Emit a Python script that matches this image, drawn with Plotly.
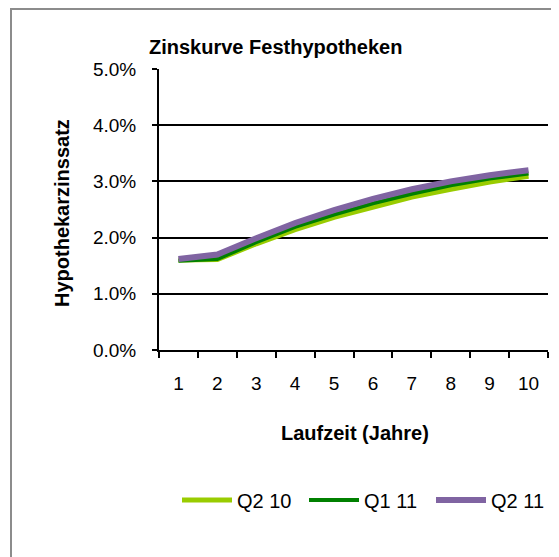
import plotly.graph_objects as go

years = ["1", "2", "3", "4", "5", "6", "7", "8", "9", "10"]
q2_10 = [1.60, 1.61, 1.89, 2.14, 2.36, 2.55, 2.72, 2.86, 2.99, 3.09]
q1_11 = [1.59, 1.62, 1.92, 2.19, 2.41, 2.61, 2.78, 2.93, 3.05, 3.14]
q2_11 = [1.62, 1.70, 1.99, 2.26, 2.49, 2.69, 2.86, 3.00, 3.11, 3.20]
yticks = [0, 1, 2, 3, 4, 5]
ytick_labels = ["0.0%", "1.0%", "2.0%", "3.0%", "4.0%", "5.0%"]

series = [
    ("Q2 10", q2_10, "#99CC00", 5),
    ("Q1 11", q1_11, "#008000", 4),
    ("Q2 11", q2_11, "#8064A2", 6),
]

fig = go.Figure()
for name, vals, col, w in series:
    fig.add_trace(go.Scatter(x=years, y=vals, name=name, mode="lines",
                             line=dict(color=col, width=w)))

# page body has an 8px margin: work in figure coordinates
OFF = 8
W, H = 559 - OFF, 557 - OFF
L, R, T, B = 159 - OFF, 548 - OFF, 69 - OFF, 350 - OFF
pw, ph = R - L, B - T

def px(x):
    return (x - OFF - L) / pw

def py(y):
    return (B - (y - OFF)) / ph

FONT = "Liberation Sans, Arial"

fig.update_layout(
    width=W, height=H,
    margin=dict(l=L, r=W - R, t=T, b=H - B, pad=0, autoexpand=False),
    paper_bgcolor="white", plot_bgcolor="white",
    font=dict(family=FONT, size=19, color="black"),
    showlegend=True,
    legend=dict(orientation="h", x=px(558), xanchor="right",
                y=py(500), yanchor="middle",
                font=dict(size=20), itemwidth=50, entrywidth=62,
                entrywidthmode="pixels", bgcolor="rgba(0,0,0,0)",
                traceorder="normal"),
    xaxis=dict(type="category", showline=True, linecolor="black", linewidth=2,
               ticks="outside", ticklen=6, tickcolor="black", tickwidth=2,
               tickson="boundaries", showgrid=False, range=[-0.5, 9.5],
               ticklabelstandoff=15, tickfont=dict(size=19)),
    yaxis=dict(range=[0, 5], tickvals=yticks, ticktext=ytick_labels,
               showline=True, linecolor="black", linewidth=2,
               ticks="outside", ticklen=5, tickcolor="black", tickwidth=2,
               showgrid=True, gridcolor="black", gridwidth=1.5,
               zeroline=False, ticklabelstandoff=12, tickfont=dict(size=19)),
    yaxis2=dict(range=[0, 5], tickvals=yticks, overlaying="y", side="left",
                showticklabels=False, showline=False, showgrid=False,
                zeroline=False, ticks="inside", ticklen=5, tickcolor="black",
                tickwidth=2),
    annotations=[
        dict(text="<b>Zinskurve Festhypotheken</b>", xref="paper", yref="paper",
             x=px(275), y=py(47), xanchor="center", yanchor="middle",
             showarrow=False, font=dict(size=20)),
        dict(text="<b>Laufzeit (Jahre)</b>", xref="paper", yref="paper",
             x=px(355), y=py(433), xanchor="center", yanchor="middle",
             showarrow=False, font=dict(size=20)),
        dict(text="<b>Hypothekarzinssatz</b>", xref="paper", yref="paper",
             x=px(62), y=py(213), xanchor="center", yanchor="middle",
             textangle=-90, showarrow=False, font=dict(size=20)),
    ],
)

# invisible trace to activate the inner-tick axis
fig.add_trace(go.Scatter(x=years[:1], y=[None], yaxis="y2", showlegend=False,
                         hoverinfo="skip", mode="lines"))

# outer chart frame
fig.add_shape(type="rect", xref="paper", yref="paper",
              x0=px(11), x1=px(580), y0=py(580), y1=py(9),
              line=dict(color="#8c8c8c", width=2), layer="below")

fig.write_html("out.html")
